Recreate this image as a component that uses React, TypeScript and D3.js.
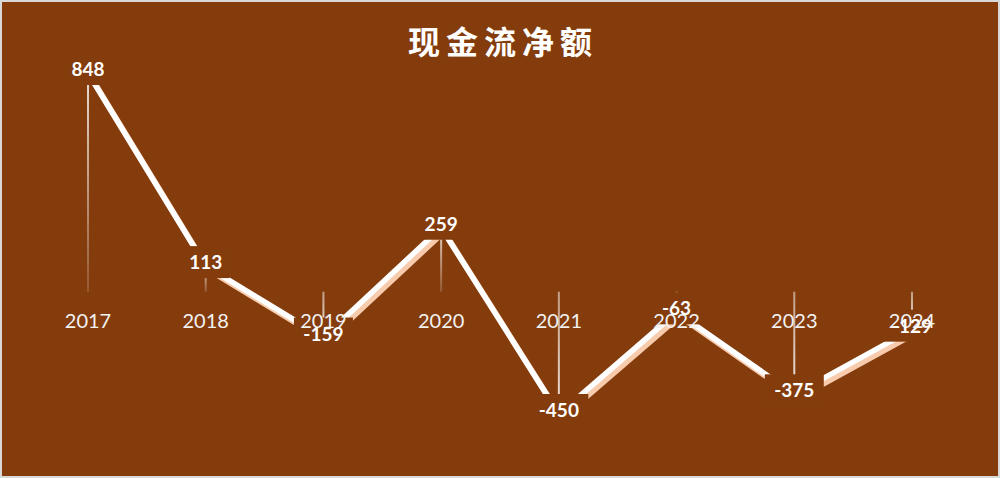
import React from "react";
import * as d3 from "d3";

const years = ["2017", "2018", "2019", "2020", "2021", "2022", "2023", "2024"];
const values = [848, 113, -159, 259, -450, -63, -375, -129];
const title = "现金流净额";

const W = 1000;
const H = 478;
const BG = "#843C0C";
const PINK = "#F8CBAD";

export default function App() {
  const x = d3.scalePoint<string>().domain(years).range([88, 912]);
  const y = d3.scaleLinear().domain([-450, 848]).range([410, 69]);
  const y0 = y(0);

  const pts = years.map((yr, i) => ({ yr, v: values[i], px: x(yr) as number, py: y(values[i]) }));
  const ribbonOffset = 4;
  const lineMain = d3
    .line<{ px: number; py: number }>()
    .x((d) => d.px)
    .y((d) => d.py + ribbonOffset);
  const lineShadow = d3
    .line<{ px: number; py: number }>()
    .x((d) => d.px + 3)
    .y((d) => d.py + ribbonOffset + 4);

  const fmt = (v: number) => String(v);
  const labelFont = "Lato, 'Open Sans', sans-serif";

  return (
    <div style={{ position: "fixed", left: 0, top: 0, width: W, height: H }}>
      <svg width={W} height={H} viewBox={`0 0 ${W} ${H}`} style={{ display: "block" }}>
        <defs>
          {pts.map((p, i) => (
            <linearGradient
              key={i}
              id={`drop${i}`}
              gradientUnits="userSpaceOnUse"
              x1={p.px}
              x2={p.px}
              y1={p.py}
              y2={y0}
            >
              <stop offset="0%" stopColor="#ffffff" stopOpacity={0.85} />
              <stop offset="100%" stopColor="#ffffff" stopOpacity={p.v > 0 ? 0.15 : 0.5} />
            </linearGradient>
          ))}
        </defs>
        <rect x={0} y={0} width={W} height={H} fill={BG} />
        <rect x={1} y={1} width={W - 2} height={H - 2} fill="none" stroke="#D9D9D9" strokeWidth={2} />

        <text
          x={W / 2 + 3}
          y={54}
          textAnchor="middle"
          fill="#ffffff"
          fontFamily="'Noto Sans CJK SC', sans-serif"
          fontWeight={700}
          fontSize={32}
          letterSpacing={6}
        >
          {title}
        </text>

        {pts.map((p, i) => (
          <line
            key={`d${i}`}
            x1={p.px}
            x2={p.px}
            y1={p.py}
            y2={y0}
            stroke={`url(#drop${i})`}
            strokeWidth={2}
          />
        ))}

        <path d={lineShadow(pts) || ""} fill="none" stroke={PINK} strokeWidth={5.5} strokeLinejoin="miter" />
        <path d={lineMain(pts) || ""} fill="none" stroke="#ffffff" strokeWidth={5.5} strokeLinejoin="miter" />

        {pts.map((p, i) => {
          const txt = fmt(p.v);
          const tw = txt.length * 11 + 15;
          return <rect key={`b${i}`} x={p.px - tw / 2} y={p.py - 16} width={tw} height={32} fill={BG} />;
        })}

        {years.map((yr) => (
          <text
            key={yr}
            x={x(yr) as number}
            y={328}
            textAnchor="middle"
            fill="#F2F2F2"
            fontFamily={labelFont}
            fontSize={20}
          >
            {yr}
          </text>
        ))}

        {pts.map((p, i) => (
          <text
            key={`t${i}`}
            x={p.px}
            y={p.py + 7}
            textAnchor="middle"
            fill="#ffffff"
            fontFamily={labelFont}
            fontWeight={700}
            fontSize={19}
          >
            {fmt(p.v)}
          </text>
        ))}
      </svg>
    </div>
  );
}
